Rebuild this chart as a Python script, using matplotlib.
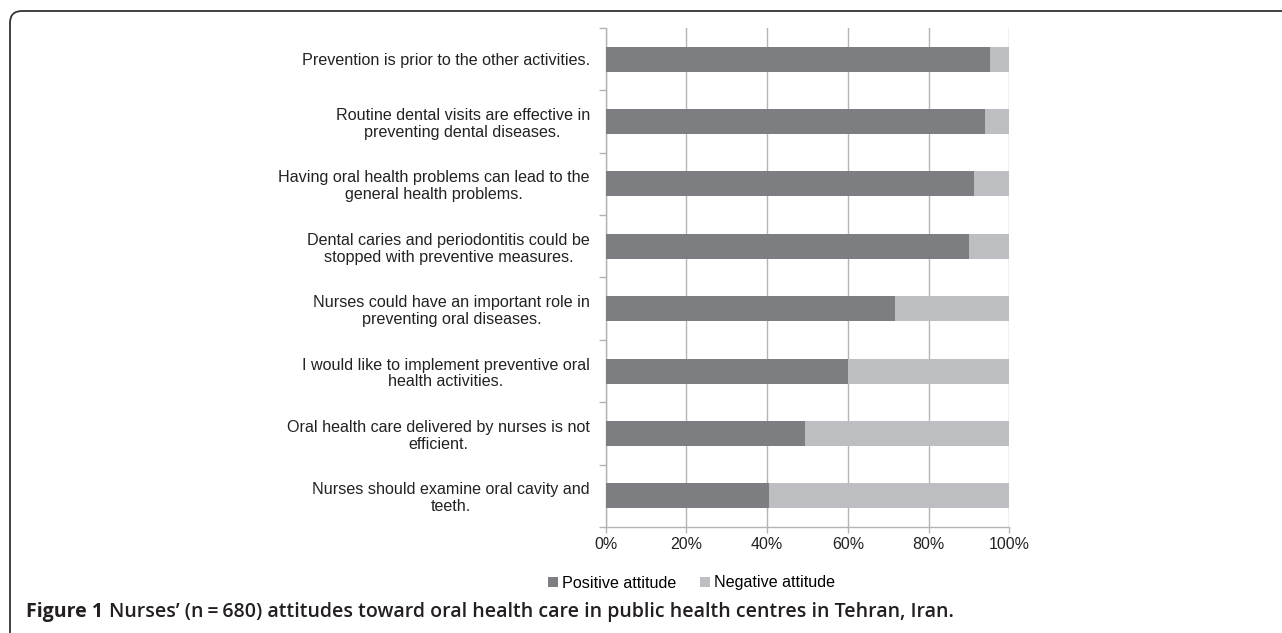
import matplotlib
matplotlib.use("Agg")
import matplotlib.pyplot as plt
import numpy as np
from matplotlib.path import Path
from matplotlib.patches import PathPatch

statements = [
    "Prevention is prior to the other activities.",
    "Routine dental visits are effective in\npreventing dental diseases.",
    "Having oral health problems can lead to the\ngeneral health problems.",
    "Dental caries and periodontitis could be\nstopped with preventive measures.",
    "Nurses could have an important role in\npreventing oral diseases.",
    "I would like to implement preventive oral\nhealth activities.",
    "Oral health care delivered by nurses is not\nefficient.",
    "Nurses should examine oral cavity and\nteeth.",
]
positive = [95.3, 94.0, 91.3, 90.0, 71.7, 60.0, 49.4, 40.5]
negative = [100 - p for p in positive]
tick_labels = ["0%", "20%", "40%", "60%", "80%", "100%"]

plt.rcParams['font.family'] = ['Liberation Sans', 'DejaVu Sans']

W, H = 1282, 633
fig = plt.figure(figsize=(W / 100, H / 100), dpi=100)
fig.patch.set_facecolor('white')
ax = fig.add_axes([0.4725, 0.1675, 0.3148, 0.7883])

grid_c = '#b4b4b4'
y = np.arange(len(statements))
ax.barh(y, positive, height=0.4, color='#7d7e82', label='Positive attitude', zorder=3)
ax.barh(y, negative, left=positive, height=0.4, color='#bdbec2',
        label='Negative attitude', zorder=3)

ax.set_xlim(0, 100)
ax.set_ylim(len(statements) - 0.5, -0.5)
ax.set_xticks(np.arange(0, 101, 20))
ax.set_xticklabels(tick_labels, fontsize=11.5, color='#222222')
ax.xaxis.grid(True, color=grid_c, linewidth=1, zorder=0)

# category labels sit between the boundary ticks, like Excel
ax.set_yticks(np.arange(-0.5, len(statements), 1))
ax.set_yticklabels([])
ax.set_yticks(y, minor=True)
ax.set_yticklabels(statements, minor=True, fontsize=11.6, color='#222222',
                   linespacing=1.15, multialignment='center')
ax.tick_params(axis='y', which='minor', length=0, pad=11.5)
ax.tick_params(axis='y', which='major', length=5, color=grid_c, width=1)
ax.tick_params(axis='x', length=4, color=grid_c, width=1, pad=3)

for s in ['top', 'right']:
    ax.spines[s].set_visible(False)
for s in ['left', 'bottom']:
    ax.spines[s].set_color(grid_c)
    ax.spines[s].set_linewidth(1)

fig.legend(loc='center left', bbox_to_anchor=(548 / W, 1 - 583 / H), ncol=2,
           frameon=False, fontsize=11.6, handlelength=0.6, handleheight=0.6,
           handletextpad=0.25, columnspacing=1.5, borderaxespad=0, borderpad=0)

# panel frame: top and left edges with a rounded corner
r = 12
x0, y0 = 10, H - 11
verts = [(x0, 0), (x0, y0 - r), (x0, y0), (x0 + r, y0), (W, y0)]
codes = [Path.MOVETO, Path.LINETO, Path.CURVE3, Path.CURVE3, Path.LINETO]
verts = [(vx / W, vy / H) for vx, vy in verts]
fig.add_artist(PathPatch(Path(verts, codes), transform=fig.transFigure,
                         fill=False, edgecolor='#333333', linewidth=1.3))

cap = fig.text(26 / W, 1 - 612 / H, "Figure 1", fontsize=14, fontweight='bold',
               family=['Open Sans', 'DejaVu Sans'], color='#231f20', va='center')
fig.canvas.draw()
bb = cap.get_window_extent()
fig.text((bb.x1 + 6) / W, 1 - 612 / H,
         "Nurses\u2019 (n\u2009=\u2009680) attitudes toward oral health care in public health centres in Tehran, Iran.",
         fontsize=14, fontweight='semibold', family=['Open Sans', 'DejaVu Sans'],
         color='#231f20', va='center')

fig.savefig('out.png', dpi=100)
